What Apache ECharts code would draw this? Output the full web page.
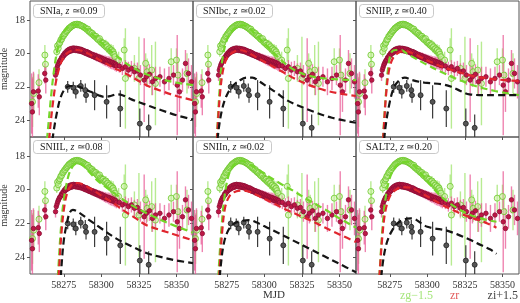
<!DOCTYPE html>
<html lang="en">
<head>
<meta charset="UTF-8">
<title>light curves</title>
<script src="https://cdn.jsdelivr.net/npm/echarts@6.0.0/dist/echarts.min.js"></script>
<style>
  html, body { margin: 0; padding: 0; background: #fff; }
  #main { width: 520px; height: 303px; }
</style>
</head>
<body>
<div id="main"></div>
<script type="text/javascript">
// panel labels
var panelNames = ['SNIa', 'SNIbc', 'SNIIP', 'SNIIL', 'SNIIn', 'SALT2'];
var panelZ = ['0.09', '0.02', '0.40', '0.08', '0.02', '0.20'];
var xTicks = [58275, 58300, 58325, 58350];
var yTicks = [18, 20, 22, 24];

// observed points [mjd, mag, err]
var obsG = [
  [58254.2, 22.9, 1.5], [58255.0, 22.4, 1.2], [58258.5, 21.75, 0.8], [58262.4, 20.1, 0.6], [58262.8, 20.65, 0.7],
  [58270.3, 19.9, 0.3], [58270.8, 19.55, 0.25], [58271.3, 19.7, 0.25], [58271.8, 19.45, 0.2], [58272.4, 19.35, 0.2],
  [58273.0, 19.2, 0.2], [58273.6, 19.15, 0.15], [58274.2, 19.0, 0.15], [58274.8, 18.95, 0.15], [58275.4, 18.85, 0.12],
  [58276.0, 18.8, 0.12], [58276.6, 18.7, 0.12], [58277.2, 18.65, 0.1], [58277.8, 18.58, 0.1], [58278.4, 18.5, 0.1],
  [58279.0, 18.48, 0.1], [58279.6, 18.42, 0.1], [58280.2, 18.38, 0.1], [58280.8, 18.35, 0.1], [58281.4, 18.3, 0.1],
  [58282.0, 18.3, 0.1], [58282.6, 18.27, 0.1], [58283.2, 18.28, 0.1], [58283.8, 18.25, 0.1], [58284.4, 18.3, 0.1],
  [58285.0, 18.27, 0.1], [58285.6, 18.3, 0.1], [58286.2, 18.33, 0.1], [58286.8, 18.35, 0.1], [58287.4, 18.38, 0.1],
  [58288.0, 18.4, 0.12], [58288.6, 18.45, 0.12], [58289.2, 18.48, 0.12], [58289.8, 18.52, 0.12], [58290.4, 18.58, 0.15],
  [58291.0, 18.55, 0.15], [58291.6, 18.68, 0.15], [58292.2, 18.7, 0.15], [58292.8, 18.75, 0.15], [58293.4, 18.82, 0.15],
  [58294.0, 18.8, 0.15], [58294.6, 18.9, 0.2], [58295.2, 18.95, 0.2], [58295.8, 19.0, 0.2], [58296.4, 18.98, 0.2],
  [58297.0, 19.1, 0.2], [58297.6, 19.15, 0.2], [58298.2, 19.2, 0.2], [58298.8, 19.12, 0.2], [58299.4, 19.3, 0.2],
  [58300.0, 19.35, 0.25], [58300.6, 19.4, 0.25], [58301.2, 19.38, 0.25], [58301.8, 19.5, 0.25], [58302.4, 19.55, 0.25],
  [58303.0, 19.48, 0.3], [58303.6, 19.65, 0.3], [58304.2, 19.6, 0.3], [58304.8, 19.75, 0.3], [58305.4, 19.72, 0.3],
  [58306.0, 19.85, 0.35], [58306.6, 19.8, 0.35], [58307.2, 19.95, 0.35], [58307.8, 19.9, 0.4], [58308.4, 20.05, 0.4],
  [58309.0, 20.2, 0.45],
  [58311.5, 20.4, 0.5], [58315.2, 19.8, 0.7], [58316.0, 21.5, 3.0], [58322.0, 20.9, 0.8], [58325.0, 21.5, 2.5],
  [58329.5, 20.6, 0.6], [58330.5, 21.1, 0.8], [58333.5, 21.0, 1.5], [58336.0, 21.8, 2.5], [58346.5, 20.5, 0.8],
  [58350.0, 20.4, 0.7], [58351.0, 21.3, 1.0], [58357.0, 21.2, 1.2]
];
var obsR = [
  [58253.6, 23.0, 1.8], [58254.1, 23.5, 2.0], [58254.8, 22.3, 1.2], [58258.0, 22.25, 1.0], [58258.7, 22.6, 1.1],
  [58262.3, 21.2, 0.6], [58263.0, 21.6, 0.8],
  [58269.5, 21.3, 0.35], [58270.0, 21.0, 0.3], [58270.5, 20.85, 0.3], [58271.0, 20.7, 0.25], [58271.5, 20.6, 0.25],
  [58272.0, 20.5, 0.2], [58272.5, 20.42, 0.2], [58273.0, 20.38, 0.2], [58273.5, 20.25, 0.15], [58274.0, 20.28, 0.15],
  [58274.5, 20.12, 0.15], [58275.0, 20.15, 0.15], [58275.5, 20.0, 0.12], [58276.0, 20.05, 0.12], [58276.5, 19.9, 0.12],
  [58277.0, 19.98, 0.12], [58277.5, 19.82, 0.1], [58278.0, 19.92, 0.1], [58278.5, 19.76, 0.1], [58279.0, 19.88, 0.1],
  [58279.5, 19.72, 0.1], [58280.0, 19.85, 0.1], [58280.5, 19.7, 0.1], [58281.0, 19.82, 0.1], [58281.5, 19.68, 0.1],
  [58282.0, 19.8, 0.1], [58282.5, 19.7, 0.1], [58283.0, 19.83, 0.1], [58283.5, 19.7, 0.1], [58284.0, 19.84, 0.1],
  [58284.5, 19.72, 0.1], [58285.0, 19.86, 0.1], [58285.5, 19.74, 0.1], [58286.0, 19.88, 0.1], [58286.5, 19.76, 0.1],
  [58287.0, 19.9, 0.1], [58287.5, 19.8, 0.1], [58288.0, 19.94, 0.12], [58288.5, 19.84, 0.12], [58289.0, 19.98, 0.12],
  [58289.5, 19.88, 0.12], [58290.0, 20.02, 0.12], [58290.5, 19.9, 0.15], [58291.0, 20.05, 0.15], [58291.5, 19.95, 0.15],
  [58292.0, 20.1, 0.15], [58292.5, 20.0, 0.15], [58293.0, 20.12, 0.15], [58293.5, 20.05, 0.15], [58294.0, 20.18, 0.15],
  [58294.5, 20.08, 0.18], [58295.0, 20.2, 0.18], [58295.5, 20.12, 0.18], [58296.0, 20.25, 0.18], [58296.5, 20.15, 0.2],
  [58297.0, 20.28, 0.2], [58297.5, 20.2, 0.2], [58298.0, 20.32, 0.2], [58298.5, 20.22, 0.2], [58299.0, 20.36, 0.2],
  [58299.5, 20.26, 0.2], [58300.0, 20.4, 0.22], [58300.5, 20.3, 0.22], [58301.0, 20.44, 0.22], [58301.5, 20.34, 0.22],
  [58302.0, 20.48, 0.25], [58302.5, 20.38, 0.25], [58303.0, 20.52, 0.25], [58303.5, 20.42, 0.25], [58304.0, 20.55, 0.25],
  [58304.5, 20.45, 0.28], [58305.0, 20.58, 0.28], [58305.5, 20.48, 0.28], [58306.0, 20.62, 0.3], [58306.5, 20.52, 0.3],
  [58307.0, 20.65, 0.3], [58307.5, 20.55, 0.3], [58308.0, 20.68, 0.3], [58308.5, 20.6, 0.32], [58309.0, 20.72, 0.32],
  [58309.5, 20.64, 0.35], [58310.0, 20.75, 0.35],
  [58312.0, 20.75, 0.4], [58314.0, 20.9, 0.4], [58316.0, 20.8, 0.4], [58318.0, 21.0, 0.5], [58320.0, 20.9, 0.45],
  [58322.0, 21.1, 0.5], [58324.0, 21.05, 0.5], [58326.0, 21.3, 0.6], [58328.5, 21.6, 2.5], [58330.0, 21.4, 0.6],
  [58332.0, 21.25, 0.6], [58334.0, 21.7, 0.8], [58336.0, 21.5, 0.7], [58339.0, 21.4, 0.6], [58342.0, 21.7, 0.8],
  [58345.0, 21.5, 0.7], [58348.0, 21.3, 0.6], [58350.5, 21.9, 3.0], [58352.0, 22.3, 1.2], [58354.0, 21.6, 0.7],
  [58356.0, 20.6, 0.8], [58358.0, 21.2, 0.9], [58360.0, 21.7, 1.0]
];
var obsI = [
  [58277.6, 22.0, 0.35], [58281.3, 22.05, 0.35], [58283.0, 22.3, 0.4], [58286.3, 21.95, 0.35], [58289.3, 22.2, 0.4],
  [58289.8, 22.5, 0.45], [58295.5, 22.5, 0.9], [58303.5, 22.9, 1.0], [58312.6, 23.3, 1.1], [58325.6, 24.2, 0.9],
  [58331.5, 24.45, 0.8]
];

// model curves [mjd, mag]
var snIaG = [[58262.5, 26.5], [58264.5, 24.5], [58266.5, 22.6], [58268.5, 21.0], [58271, 19.7], [58274, 18.9], [58277, 18.5], [58280, 18.33], [58283, 18.28], [58286, 18.33], [58290, 18.55], [58295, 18.95], [58300, 19.35], [58305, 19.75], [58310, 20.15], [58315, 20.5], [58320, 20.8], [58325, 21.05], [58330, 21.25], [58340, 21.55], [58350, 21.75], [58361, 21.9]];
var snIaR = [[58264, 26.5], [58266, 24.4], [58268, 22.8], [58270, 21.6], [58273, 20.6], [58276, 20.1], [58280, 19.85], [58284, 19.8], [58288, 19.88], [58293, 20.1], [58298, 20.35], [58303, 20.6], [58308, 20.85], [58315, 21.15], [58322, 21.5], [58330, 21.9], [58340, 22.25], [58350, 22.55], [58361, 22.8]];
var snIaI = [[58265.5, 26.5], [58268, 24.8], [58270.5, 23.5], [58273, 22.6], [58276, 22.1], [58279, 21.95], [58283, 21.95], [58288, 22.1], [58293, 22.3], [58298, 22.5], [58302, 22.6], [58306, 22.55], [58310, 22.45], [58314, 22.5], [58320, 22.75], [58326, 22.95], [58332, 23.15], [58340, 23.4], [58350, 23.7], [58361, 23.95]];

var snIbcG = [[58267.5, 26.5], [58269, 24.0], [58270.5, 21.8], [58272, 20.4], [58275, 19.2], [58279, 18.6], [58283, 18.35], [58286, 18.32], [58290, 18.5], [58295, 18.95], [58300, 19.4], [58305, 19.85], [58310, 20.3], [58315, 20.7], [58320, 21.0], [58328, 21.3], [58340, 21.5], [58361, 21.6]];
var snIbcR = [[58267.5, 26.5], [58269, 24.3], [58270.5, 22.4], [58272.5, 21.0], [58275, 20.3], [58279, 19.95], [58284, 19.8], [58288, 19.9], [58294, 20.2], [58300, 20.5], [58306, 20.8], [58312, 21.1], [58320, 21.5], [58330, 21.9], [58340, 22.2], [58350, 22.4], [58361, 22.55]];
var snIbcI = [[58267.5, 26.5], [58269.5, 24.6], [58272, 23.3], [58275, 22.5], [58279, 21.95], [58283, 21.65], [58288, 21.45], [58292, 21.45], [58297, 21.7], [58302, 22.0], [58308, 22.35], [58315, 22.8], [58322, 23.1], [58333, 23.5], [58345, 23.85], [58361, 24.15]];

var snIIPG = [[58269.5, 26.5], [58271, 24.3], [58272.5, 22.3], [58274, 20.8], [58276, 19.95], [58279, 19.8], [58282, 19.8], [58287, 20.05], [58298, 20.6], [58309, 21.1], [58320, 21.55], [58332, 21.95], [58345, 22.25], [58361, 22.5]];
var snIIPR = [[58269.5, 26.5], [58271, 24.5], [58272.5, 22.5], [58274.5, 21.0], [58277, 20.3], [58281, 19.95], [58285, 19.85], [58289, 19.95], [58295, 20.2], [58302, 20.5], [58310, 20.8], [58320, 21.1], [58330, 21.35], [58345, 21.55], [58361, 21.65]];
var snIIPI = [[58270, 26.5], [58272, 24.5], [58275, 22.9], [58278, 22.0], [58282, 21.55], [58285, 21.45], [58290, 21.6], [58298, 21.75], [58310, 21.85], [58316, 22.0], [58322, 22.25], [58328, 22.45], [58340, 22.5], [58361, 22.5]];

var snIILG = [[58270, 26.5], [58271.5, 24.5], [58273, 22.4], [58275, 20.6], [58278, 19.2], [58281, 18.6], [58284, 18.42], [58287, 18.5], [58292, 18.95], [58298, 19.5], [58304, 19.9], [58310, 20.3], [58318, 20.8], [58326, 21.2], [58335, 21.6], [58345, 22.0], [58361, 22.55]];
var snIILR = [[58270.5, 26.5], [58272, 24.5], [58273.5, 22.5], [58275.5, 20.9], [58278, 20.0], [58281, 19.65], [58284, 19.6], [58288, 19.7], [58294, 20.0], [58300, 20.35], [58308, 20.8], [58316, 21.3], [58323, 21.7], [58330, 22.1], [58345, 22.55], [58361, 23.0]];
var snIILI = [[58272, 26.5], [58273.5, 24.5], [58275, 23.0], [58277, 22.0], [58279, 21.35], [58281, 21.2], [58285, 21.35], [58292, 21.8], [58300, 22.3], [58310, 22.9], [58320, 23.35], [58330, 23.75], [58340, 24.0], [58350, 24.2], [58361, 24.35]];

var snIInG = [[58268.5, 26.5], [58270, 24.2], [58271.5, 22.2], [58273.5, 20.4], [58276, 19.2], [58279, 18.6], [58282, 18.35], [58285, 18.28], [58288, 18.4], [58292, 18.6], [58300, 19.05], [58310, 19.6], [58320, 20.1], [58330, 20.65], [58340, 21.15], [58350, 21.7], [58361, 22.25]];
var snIInR = [[58269, 26.5], [58270.5, 24.3], [58272, 22.4], [58274, 21.0], [58277, 20.35], [58281, 20.1], [58286, 20.05], [58291, 20.15], [58298, 20.45], [58306, 20.8], [58315, 21.2], [58325, 21.6], [58335, 22.0], [58345, 22.45], [58355, 22.85], [58361, 23.1]];
var snIInI = [[58269, 26.5], [58271, 24.5], [58273, 23.2], [58276, 22.4], [58280, 22.0], [58285, 21.85], [58290, 21.8], [58295, 21.95], [58302, 22.25], [58310, 22.6], [58320, 23.05], [58330, 23.5], [58340, 23.95], [58350, 24.4], [58361, 24.9]];

var salt2G = [[58267, 26.5], [58268.5, 24.5], [58270, 22.4], [58272, 20.6], [58275, 19.3], [58279, 18.6], [58283, 18.38], [58287, 18.34], [58291, 18.55], [58296, 19.05], [58302, 19.7], [58308, 20.3], [58314, 20.75], [58320, 21.1], [58326, 21.4], [58332, 21.6], [58340, 21.8], [58346, 21.9]];
var salt2R = [[58267, 26.5], [58268.5, 24.6], [58270, 22.8], [58272, 21.3], [58275, 20.4], [58279, 20.0], [58284, 19.85], [58289, 19.88], [58295, 20.15], [58302, 20.5], [58310, 20.9], [58318, 21.25], [58326, 21.55], [58334, 21.8], [58340, 22.0], [58346, 22.25]];
var salt2I = [[58268, 26.5], [58270, 24.6], [58272.5, 23.3], [58276, 22.5], [58280, 22.0], [58285, 21.75], [58289, 21.7], [58292, 21.75], [58296, 22.0], [58300, 22.2], [58305, 22.3], [58312, 22.4], [58320, 22.65], [58328, 22.95], [58336, 23.3], [58342, 23.55], [58346, 23.8]];

var models = [
  [snIaG, snIaR, snIaI], [snIbcG, snIbcR, snIbcI], [snIIPG, snIIPR, snIIPI],
  [snIILG, snIILR, snIILI], [snIInG, snIInR, snIInI], [salt2G, salt2R, salt2I]
];

var X_MIN = 58252.5, X_MAX = 58361;
var Y_MIN = 16.87, Y_MAX = 25;
var colLeft = [30, 193, 356];
var colWidth = [163, 163, 163];
var rowTop = [1, 137];
var rowHeight = [136, 137];

var serif = 'Liberation Serif';
var gCol = '#74d62a', rCol = '#e0262e', iCol = '#151515';

function plain(v) { return String(v); }

function errBars(data, color, width, gi) {
  return {
    type: 'custom', xAxisIndex: gi, yAxisIndex: gi, silent: true,
    data: data,
    encode: { x: 0, y: 1 },
    renderItem: function (params, api) {
      var x = api.value(0), m = api.value(1), e = api.value(2);
      if (x < X_MIN || x > X_MAX) return null;
      var lo = Math.max(m - e, Y_MIN), hi = Math.min(m + e, Y_MAX);
      var p1 = api.coord([x, lo]), p2 = api.coord([x, hi]);
      return {
        type: 'line',
        shape: { x1: p1[0], y1: p1[1], x2: p2[0], y2: p2[1] },
        style: { stroke: color, lineWidth: width }
      };
    }
  };
}

function points(data, size, fill, edge, gi) {
  return {
    type: 'scatter', xAxisIndex: gi, yAxisIndex: gi, silent: true,
    data: data.map(function (d) { return [d[0], d[1]]; }),
    symbol: 'circle', symbolSize: size,
    itemStyle: { color: fill, borderColor: edge, borderWidth: 0.8, opacity: 1 }
  };
}

function model(data, color, gi) {
  return {
    type: 'line', xAxisIndex: gi, yAxisIndex: gi, silent: true,
    data: data, smooth: 0.35, showSymbol: false, clip: true,
    lineStyle: { color: color, width: 2.2, type: [7, 4] }
  };
}

var grids = [], xAxes = [], yAxes = [], series = [], titles = [];
for (var k = 0; k < 6; k++) {
  var c = k % 3, r = Math.floor(k / 3);
  grids.push({
    left: colLeft[c], top: rowTop[r], width: colWidth[c], height: rowHeight[r],
    show: true, borderColor: '#555', borderWidth: 1, outerBoundsMode: 'none'
  });
  xAxes.push({
    gridIndex: k, type: 'value', min: X_MIN, max: X_MAX,
    splitLine: { show: false }, axisLine: { show: false },
    axisTick: { show: true, length: 3, lineStyle: { color: '#555' }, customValues: xTicks },
    axisLabel: {
      show: r === 1, customValues: xTicks, margin: 6, formatter: plain,
      fontFamily: serif, fontSize: 10, color: '#333'
    }
  });
  yAxes.push({
    gridIndex: k, type: 'value', min: Y_MIN, max: Y_MAX, inverse: true,
    splitLine: { show: false }, axisLine: { show: false },
    axisTick: { show: true, length: 3, lineStyle: { color: '#555' }, customValues: yTicks },
    axisLabel: {
      show: c === 0, customValues: yTicks, margin: 5, formatter: plain,
      fontFamily: serif, fontSize: 10, color: '#333'
    },
    name: c === 0 ? 'magnitude' : '', nameLocation: 'middle', nameRotate: 90, nameGap: 21,
    nameTextStyle: { fontFamily: serif, fontSize: 10, color: '#333' }
  });

  series.push(errBars(obsG, 'rgba(160,228,110,0.75)', 1.4, k));
  series.push(points(obsG, 6, 'rgba(200,240,160,0.55)', '#6cc82a', k));
  series.push(errBars(obsR, 'rgba(232,90,150,0.75)', 1.4, k));
  series.push(points(obsR, 4.5, '#be1646', '#8c0f33', k));
  series.push(errBars(obsI, '#3a3a3a', 1.2, k));
  series.push(points(obsI, 5, '#555', '#222', k));
  series.push(model(models[k][0], gCol, k));
  series.push(model(models[k][1], rCol, k));
  series.push(model(models[k][2], iCol, k));

  titles.push({
    left: colLeft[c] + 3, top: rowTop[r] + 3,
    text: '{n|' + panelNames[k] + ', }{i|z}{n| \u2243' + panelZ[k] + '}',
    backgroundColor: '#fff', borderColor: '#bbb', borderWidth: 0.8, borderRadius: 3,
    padding: [2, 7, 2, 7],
    textStyle: {
      fontWeight: 'normal',
      rich: {
        n: { fontFamily: serif, fontSize: 10, fontWeight: 'normal', color: '#222' },
        i: { fontFamily: serif, fontSize: 10, fontWeight: 'normal', fontStyle: 'italic', color: '#222' }
      }
    }
  });
}

var chart = echarts.init(document.getElementById('main'));
chart.setOption({
  animation: false,
  title: titles,
  grid: grids,
  xAxis: xAxes,
  yAxis: yAxes,
  series: series,
  graphic: [
    { type: 'text', left: 263, top: 290, style: { text: 'MJD', fontFamily: serif, fontSize: 11, fill: '#333' } },
    { type: 'text', left: 400, top: 290, style: { text: 'zg\u22121.5', fontFamily: serif, fontSize: 12, fill: '#a6e57c' } },
    { type: 'text', left: 450, top: 290, style: { text: 'zr', fontFamily: serif, fontSize: 12, fill: '#e25a5a' } },
    { type: 'text', right: 2, top: 290, style: { text: 'zi+1.5', fontFamily: serif, fontSize: 12, fill: '#444' } }
  ]
});
</script>
</body>
</html>
